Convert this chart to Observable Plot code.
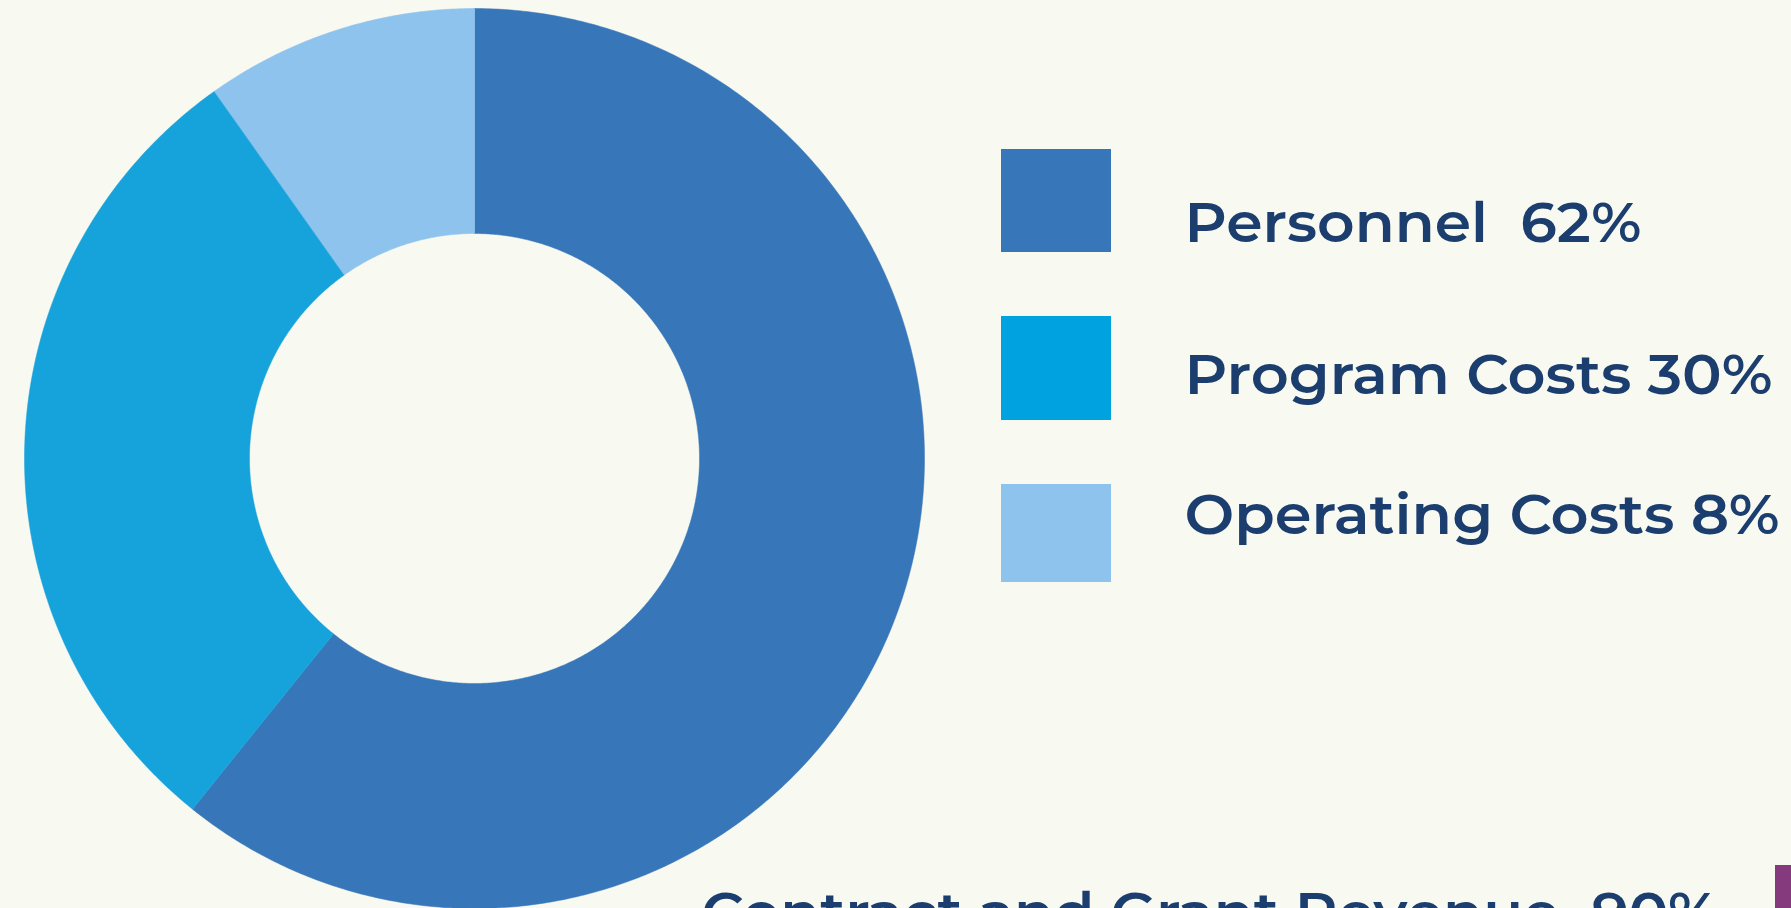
<!DOCTYPE html>
<html><head><meta charset="utf-8">
<script src="https://cdn.jsdelivr.net/npm/d3@7"></script>
<script src="https://cdn.jsdelivr.net/npm/@observablehq/plot@0.6"></script>
<style>
html,body{margin:0;padding:0;background:#f8f9f1;overflow:hidden}
#chart svg text{white-space:pre}
</style>
</head><body><div id="chart"></div>
<script>
// ---- data ----
const categories = ["Personnel", "Program Costs", "Operating Costs"];
const values = [62, 30, 10];
const legendLabels = ["Personnel  62%", "Program Costs 30%", "Operating Costs 8%"];
const sliceColors = ["#3676b9", "#16a2db", "#8dc3ed"];
const legendColors = ["#3676b9", "#00a2e0", "#8dc3ed"];
const footerLabels = ["Contract and Grant Revenue  90%"];
const footerColors = ["#853a7d"];

// ---- layout ----
const W = 1791, H = 908;
const cx = 474, cy = 458, rOuter = 450, rInner = 225;
const textColor = "#1b3e6f";
const font = "Montserrat, Inter, 'Open Sans', sans-serif";

// donut slices via d3.pie, sampled into closed polygons
const pie = d3.pie().sort(null).value(d => d.value)(categories.map((c, i) => ({cat: c, value: values[i], color: sliceColors[i]})));
const slicePts = [];
pie.forEach(p => {
  const n = Math.max(8, Math.ceil((p.endAngle - p.startAngle) * 120));
  for (let k = 0; k <= n; k++) {
    const a = p.startAngle + (p.endAngle - p.startAngle) * k / n;
    slicePts.push({cat: p.data.cat, color: p.data.color, x: cx + rOuter * Math.sin(a), y: cy - rOuter * Math.cos(a)});
  }
  for (let k = n; k >= 0; k--) {
    const a = p.startAngle + (p.endAngle - p.startAngle) * k / n;
    slicePts.push({cat: p.data.cat, color: p.data.color, x: cx + rInner * Math.sin(a), y: cy - rInner * Math.cos(a)});
  }
});

// legend rows
const rowTops = [149, 316, 484];
const rowHeights = [103, 104, 98];
const rowBaselines = [241, 393, 533];
const legendRows = categories.map((c, i) => ({
  cat: c, label: legendLabels[i], color: legendColors[i],
  y1: rowTops[i], y2: rowTops[i] + rowHeights[i], base: rowBaselines[i]
}));
const footer = footerLabels.map((t, i) => ({label: t, color: footerColors[i]}));

const chart = Plot.plot({
  width: W, height: H,
  margin: 0,
  style: {background: "#f8f9f1", overflow: "hidden"},
  x: {domain: [0, W], range: [0, W], axis: null},
  y: {domain: [0, H], range: [0, H], axis: null},
  color: {type: "identity"},
  marks: [
    Plot.line(slicePts, {x: "x", y: "y", z: "cat", fill: "color", stroke: "color", strokeWidth: 0.5, curve: "linear-closed"}),
    Plot.rect(legendRows, {x1: 1001, x2: 1111, y1: "y1", y2: "y2", fill: "color"}),
    Plot.text(legendRows, {x: 1184, y: "base", text: "label", textAnchor: "start", lineAnchor: "bottom",
      fill: textColor, fontSize: 56, fontWeight: 600, fontFamily: font}),
    Plot.text(footer, {x: 701, y: 931, text: "label", textAnchor: "start", lineAnchor: "bottom",
      fill: textColor, fontSize: 56, fontWeight: 600, fontFamily: font}),
    Plot.rect(footer, {x1: 1775, x2: 1791, y1: 865, y2: 960, fill: "color"})
  ]
});
document.getElementById("chart").appendChild(chart);

// fit text widths to the reference
const widths = {"Personnel  62%": 457, "Program Costs 30%": 588, "Operating Costs 8%": 595, "Contract and Grant Revenue  90%": 1017};
d3.select(chart).selectAll("text").each(function() {
  const t = this.textContent;
  if (widths[t]) {
    this.setAttribute("textLength", widths[t]);
    this.setAttribute("lengthAdjust", "spacingAndGlyphs");
  }
});
</script>
</body></html>
